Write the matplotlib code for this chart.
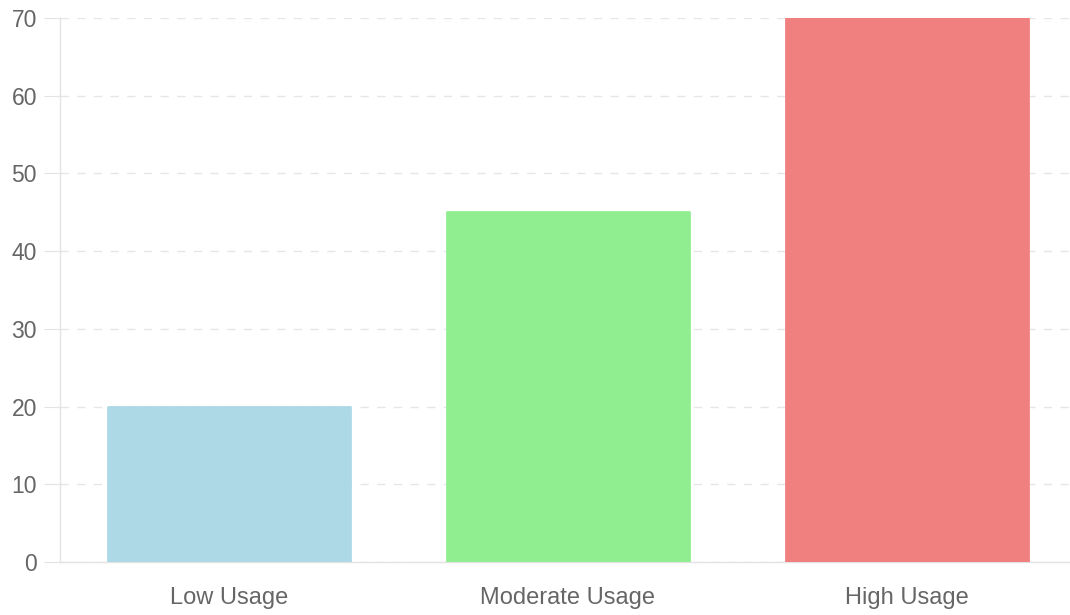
import matplotlib
matplotlib.use('Agg')
import matplotlib.pyplot as plt

categories = ['Low Usage', 'Moderate Usage', 'High Usage']
values = [20, 45, 70]
colors = ['#add8e6', '#90ee90', '#f08080']
yticks = [0, 10, 20, 30, 40, 50, 60, 70]

plt.rcParams['font.family'] = ['Liberation Sans', 'DejaVu Sans']

fig = plt.figure(figsize=(10.7, 6.15), dpi=100)
ax = fig.add_axes([60/1070, 53/615, 1016/1070, 544/615])

x = range(len(categories))
bars = ax.bar(x, values, width=0.714, color=colors, zorder=3)
for b, c in zip(bars, colors):
    b.set_edgecolor(c)
    b.set_linewidth(2)
    b.set_joinstyle('round')

ax.set_xlim(-0.5, 2.5)
ax.set_ylim(0, 70)
ax.set_yticks(yticks)
ax.set_xticks(list(x))
ax.set_xticklabels(categories)

ax.grid(axis='y', color='#e6e6e6', linestyle=(0, (6, 6)), linewidth=1, zorder=0)
for s in ['top', 'right']:
    ax.spines[s].set_visible(False)
for s in ['left', 'bottom']:
    ax.spines[s].set_color('#e3e3e3')
    ax.spines[s].set_linewidth(1)

ax.tick_params(axis='y', length=11.5, color='#e3e3e3', pad=5, labelsize=16.5, labelcolor='#666666')
ax.tick_params(axis='x', length=0, pad=18, labelsize=17, labelcolor='#666666')

fig.savefig('out.png', dpi=100)
